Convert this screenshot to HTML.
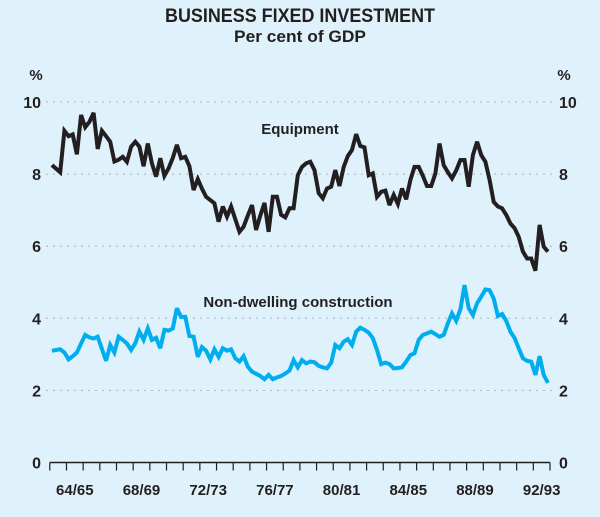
<!DOCTYPE html>
<html><head><meta charset="utf-8"><style>
html,body{margin:0;padding:0;background:#dff1fb;}
svg{display:block;font-family:"Liberation Sans",Arial,sans-serif;}
</style></head><body>
<svg id="chart" width="600" height="517" viewBox="0 0 600 517" xmlns="http://www.w3.org/2000/svg">
<rect x="0" y="0" width="600" height="517" fill="#dff1fb"/>
<text x="300" y="22" text-anchor="middle" font-size="19" font-weight="bold" fill="#231f20" textLength="270" lengthAdjust="spacingAndGlyphs">BUSINESS FIXED INVESTMENT</text>
<text x="300" y="42" text-anchor="middle" font-size="17" font-weight="bold" fill="#231f20" textLength="132" lengthAdjust="spacingAndGlyphs">Per cent of GDP</text>
<text x="36" y="80" text-anchor="middle" font-size="15" font-weight="bold" fill="#231f20">%</text>
<text x="564" y="80" text-anchor="middle" font-size="15" font-weight="bold" fill="#231f20">%</text>
<g id="grid"></g>
<g id="axes"></g>
<g id="series"></g>
<text x="300" y="134" text-anchor="middle" font-size="15" font-weight="bold" fill="#231f20">Equipment</text>
<text x="298" y="307" text-anchor="middle" font-size="15" font-weight="bold" fill="#231f20">Non-dwelling construction</text>
</svg>
<script>
const yTicks = [0, 2, 4, 6, 8, 10];
const xLabels = ["64/65", "68/69", "72/73", "76/77", "80/81", "84/85", "88/89", "92/93"];
const xLabelYearIdx = [1, 5, 9, 13, 17, 21, 25, 29];
const nYears = 30;
const equipment = [8.25,8.15,8.05,9.2,9.05,9.1,8.55,9.64,9.3,9.45,9.7,8.7,9.2,9.05,8.9,8.35,8.4,8.48,8.34,8.76,8.9,8.76,8.22,8.85,8.3,7.93,8.44,7.95,8.16,8.45,8.81,8.44,8.48,8.22,7.56,7.86,7.6,7.37,7.28,7.19,6.68,7.1,6.82,7.1,6.75,6.4,6.54,6.85,7.14,6.45,6.85,7.2,6.4,7.37,7.37,6.87,6.8,7.05,7.05,7.97,8.2,8.3,8.34,8.11,7.47,7.33,7.6,7.65,8.11,7.67,8.2,8.5,8.67,9.11,8.78,8.74,7.97,8.02,7.37,7.51,7.54,7.14,7.42,7.17,7.6,7.3,7.84,8.2,8.2,7.95,7.67,7.67,8.02,8.85,8.25,8.05,7.88,8.1,8.39,8.39,7.65,8.53,8.9,8.53,8.34,7.84,7.23,7.1,7.05,6.87,6.63,6.5,6.26,5.85,5.66,5.66,5.32,6.59,5.99,5.85];
const construction = [3.10,3.12,3.14,3.05,2.86,2.95,3.05,3.3,3.54,3.47,3.44,3.49,3.15,2.82,3.26,3.05,3.49,3.4,3.3,3.12,3.31,3.63,3.4,3.72,3.4,3.46,3.17,3.68,3.66,3.72,4.28,4.04,4.04,3.51,3.49,2.93,3.2,3.1,2.86,3.14,2.93,3.17,3.1,3.14,2.89,2.8,2.95,2.66,2.52,2.46,2.4,2.31,2.43,2.31,2.36,2.4,2.47,2.55,2.84,2.64,2.84,2.75,2.8,2.78,2.68,2.64,2.61,2.77,3.26,3.17,3.35,3.42,3.26,3.63,3.74,3.68,3.6,3.45,3.12,2.73,2.77,2.73,2.61,2.62,2.64,2.8,2.98,3.03,3.4,3.54,3.58,3.63,3.56,3.49,3.54,3.86,4.14,3.93,4.25,4.92,4.28,4.09,4.42,4.6,4.8,4.78,4.55,4.06,4.12,3.93,3.63,3.45,3.17,2.89,2.82,2.8,2.43,2.95,2.43,2.21];

const NS = "http://www.w3.org/2000/svg";
const X0 = 49.8, X1 = 550, Y0 = 462.5, YPER = 36.05;
function yScale(v){ return Y0 - v * YPER; }
function xYear(i){ return X0 + i * (X1 - X0) / nYears; }
function xQuarter(i){ return X0 + (i + 0.5) * (X1 - X0) / (nYears * 4); }
function mk(tag, attrs, parent){
  const el = document.createElementNS(NS, tag);
  for (const k in attrs) el.setAttribute(k, attrs[k]);
  parent.appendChild(el);
  return el;
}
const grid = document.getElementById('grid');
const axes = document.getElementById('axes');
const series = document.getElementById('series');

yTicks.forEach(v => {
  const y = yScale(v);
  if (v > 0) {
    const g = mk('line', {x1: 46, x2: 553, y1: y, y2: y, stroke: '#a9b6bd', 'stroke-width': 1, 'stroke-dasharray': '2,5'}, grid);
    
    
  }
  const tl = mk('text', {x: 41, y: y + 6, 'text-anchor': 'end', 'font-size': 16, 'font-weight': 'bold', fill: '#231f20'}, axes);
  tl.textContent = v;
  
  
  const tr = mk('text', {x: 559, y: y + 6, 'text-anchor': 'start', 'font-size': 16, 'font-weight': 'bold', fill: '#231f20'}, axes);
  tr.textContent = v;
  
  
});

const axis = mk('line', {x1: X0, x2: X1, y1: Y0, y2: Y0, stroke: '#231f20', 'stroke-width': 1.5}, axes);


for (let i = 0; i <= nYears; i++) {
  const t = mk('line', {x1: xYear(i), x2: xYear(i), y1: Y0, y2: Y0 + 8, stroke: '#231f20', 'stroke-width': 1.2}, axes);
  
  
}
xLabels.forEach((lab, k) => {
  const cx = (xYear(xLabelYearIdx[k]) + xYear(xLabelYearIdx[k] + 1)) / 2;
  const t = mk('text', {x: cx, y: 495, 'text-anchor': 'middle', 'font-size': 15, 'font-weight': 'bold', fill: '#231f20'}, axes);
  t.textContent = lab;
  
  
});

function drawLine(vals, color, name){
  const pts = vals.map((v, i) => xQuarter(i).toFixed(1) + ',' + yScale(v).toFixed(1)).join(' ');
  const p = mk('polyline', {points: pts, fill: 'none', stroke: color, 'stroke-width': 4, 'stroke-linejoin': 'miter', 'stroke-miterlimit': 3}, series);
  
  
}
drawLine(construction, '#00aeef', 'construction-line');
drawLine(equipment, '#231f20', 'equipment-line');
</script>
</body></html>
